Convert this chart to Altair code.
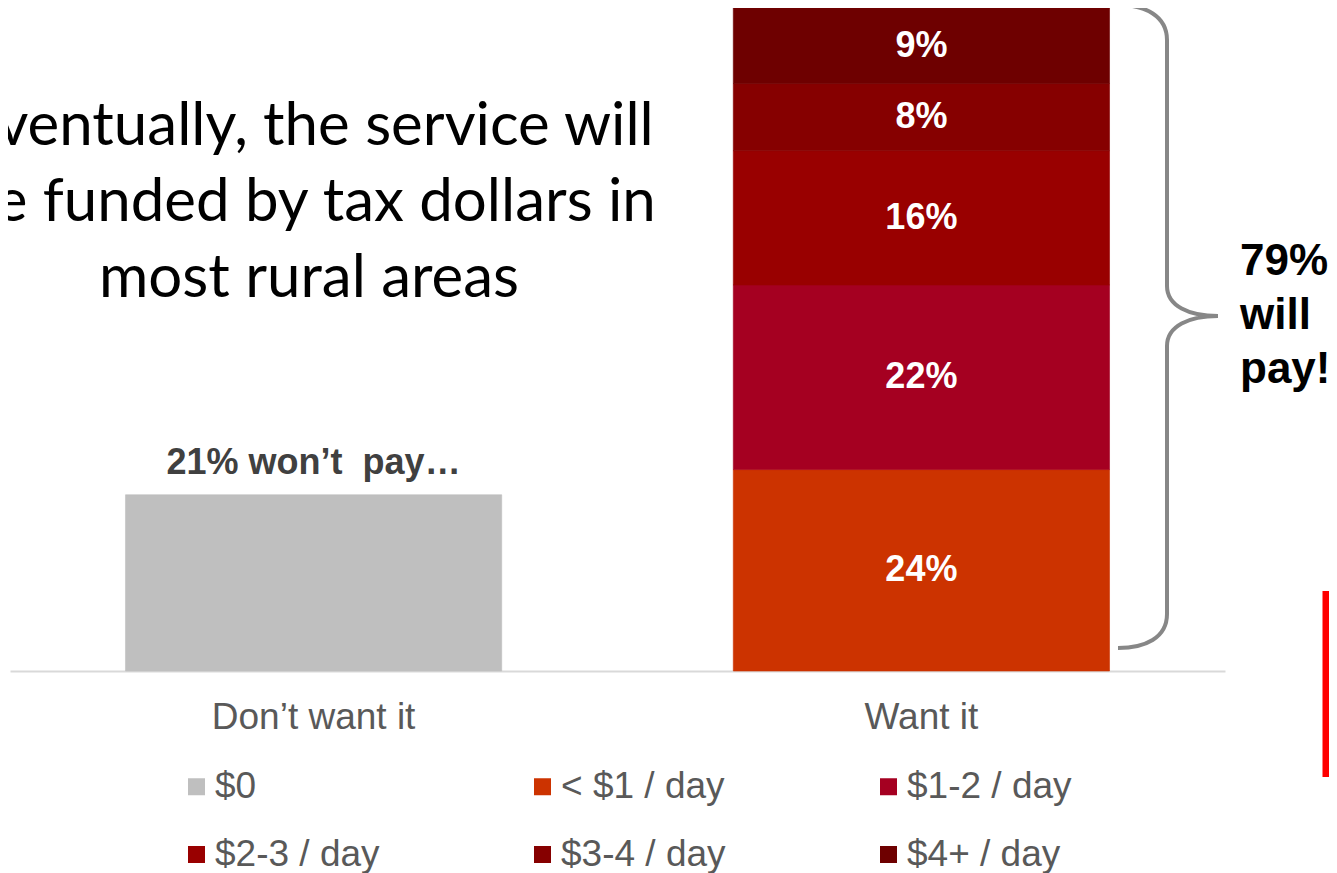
import altair as alt
import pandas as pd

# ---- data ----
groups = ["Don’t want it", "Want it"]
tiers = ["$0", "< $1 / day", "$1-2 / day", "$2-3 / day", "$3-4 / day", "$4+ / day"]
dont_want_values = [21, 0, 0, 0, 0, 0]
want_values = [0, 24, 22, 16, 8, 9]
tier_colors = ["#BFBFBF", "#CC3300", "#A50021", "#990000", "#860000", "#6E0000"]
wont_pay_label = "21% won’t \u00a0pay…"
title_lines = ["Eventually, the service will", "be funded by tax dollars in", "most rural areas"]
will_pay_lines = ["79%", "will", "pay!"]

rows = []
for g, vals in zip(groups, [dont_want_values, want_values]):
    for i, (t, v) in enumerate(zip(tiers, vals)):
        if v > 0:
            rows.append({"group": g, "tier": t, "idx": i, "value": v})
df = pd.DataFrame(rows)
one = pd.DataFrame({"k": [0]})

base = (
    alt.Chart(df)
    .transform_stack(stack="value", groupby=["group"],
                     sort=[alt.SortField("idx", order="ascending")], as_=["y0", "y1"])
    .transform_calculate(mid="(datum.y0 + datum.y1) / 2", label="datum.value + '%'")
)

xenc = alt.X(
    "group:N", sort=groups,
    scale=alt.Scale(paddingInner=0.381, paddingOuter=0.19),
    axis=alt.Axis(title=None, labelAngle=0, labelFontSize=37, labelColor="#595959",
                  labelFont="Liberation Sans", labelPadding=28, labelLimit=400,
                  ticks=False, tickSize=0, domainColor="#D9D9D9", domainWidth=2, grid=False),
)
yscale = alt.Scale(domain=[0, 79], nice=False, zero=True)
cscale = alt.Scale(domain=tiers, range=tier_colors)

bars = base.mark_bar(strokeWidth=0.6).encode(
    x=xenc,
    y=alt.Y("y1:Q", scale=yscale, axis=None),
    y2="y0:Q",
    stroke=alt.Stroke("tier:N", scale=cscale, legend=None),
    color=alt.Color(
        "tier:N",
        scale=cscale,
        legend=alt.Legend(title=None, orient="none", legendX=168, legendY=760, columns=3,
                          direction="horizontal", symbolType="square", symbolSize=289,
                          symbolStrokeWidth=0, symbolOpacity=1, labelFontSize=37,
                          labelFont="Liberation Sans", labelColor="#595959", labelOffset=0,
                          labelLimit=400, columnPadding=144, rowPadding=30),
    ),
)

seg_labels = base.transform_filter(alt.datum.group == groups[1]).mark_text(
    font="Liberation Sans", fontSize=36, fontWeight="bold", color="white"
).encode(x=alt.X("group:N", sort=groups), y=alt.Y("mid:Q", scale=yscale), text="label:N")

wont_label = base.transform_filter(alt.datum.group == groups[0]).mark_text(
    font="Liberation Sans", fontSize=36, fontWeight="bold", color="#404040",
    baseline="bottom", dy=-13
).encode(x=alt.X("group:N", sort=groups), y=alt.Y("y1:Q", scale=yscale),
         text=alt.value(wont_pay_label))

title = alt.Chart(one).mark_text(
    text=title_lines, font="Lato", fontSize=60, align="center", baseline="alphabetic",
    lineHeight=76, color="#000000"
).encode(x=alt.value(299), y=alt.value(137))

brace_path = ("M -0.48 -3.11 C -0.22 -3.11 0 -3.0 0 -2.76 L 0 -0.30 "
              "C 0 -0.10 0.22 0 0.51 0 C 0.22 0 0 0.10 0 0.30 L 0 2.98 "
              "C 0 3.22 -0.22 3.32 -0.49 3.32")
brace = alt.Chart(one).mark_point(
    shape=brace_path, size=40000, filled=False, stroke="#878787", strokeWidth=4, opacity=1
).encode(x=alt.value(1157), y=alt.value(308))

will_pay = alt.Chart(one).mark_text(
    text=will_pay_lines, font="Liberation Sans", fontWeight="bold", fontSize=44,
    align="left", baseline="alphabetic", lineHeight=54, color="#000000"
).encode(x=alt.value(1230), y=alt.value(267))

red_rule = alt.Chart(one).mark_rule(color="#FF0000", strokeWidth=7).encode(
    x=alt.value(1316), y=alt.value(583), y2=alt.value(769)
)

chart = alt.layer(bars, seg_labels, wont_label, title, brace, will_pay, red_rule).properties(
    width=1215, height=663,
    padding={"left": 2, "top": 0, "right": 104, "bottom": 202},
    autosize=alt.AutoSizeParams(type="none"),
).configure_view(stroke=None)

chart.save("out.html", embed_options={"renderer": "svg", "actions": False})
